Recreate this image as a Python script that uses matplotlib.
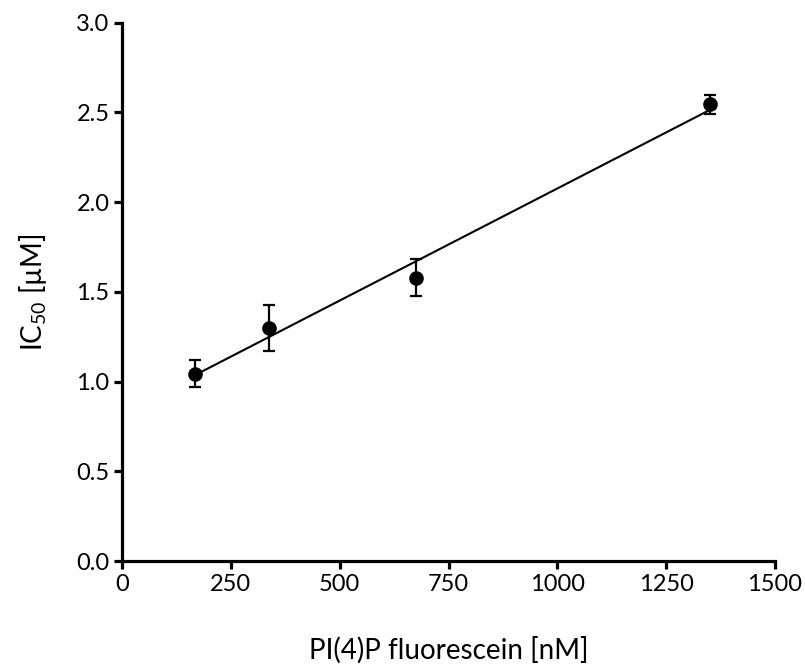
import numpy as np
import matplotlib
matplotlib.use("Agg")
import matplotlib.pyplot as plt

plt.rcParams['font.family'] = ['Lato', 'DejaVu Sans']
plt.rcParams['mathtext.fontset'] = 'custom'
plt.rcParams['mathtext.rm'] = 'Lato'

# data
conc = [168.75, 337.5, 675, 1350]          # PI(4)P fluorescein [nM]
ic50 = [1.045, 1.30, 1.58, 2.545]          # IC50 [uM]
err = [0.075, 0.127, 0.105, 0.053]

xticks = [0, 250, 500, 750, 1000, 1250, 1500]
yticks = [0.0, 0.5, 1.0, 1.5, 2.0, 2.5, 3.0]

# linear fit
k, b = np.polyfit(conc, ic50, 1)
xfit = np.array([conc[0], conc[-1]])
yfit = k * xfit + b

fig = plt.figure(figsize=(8.05, 6.69), dpi=100)
ax = fig.add_axes([0.1516, 0.1614, 0.8111, 0.8046])

ax.plot(xfit, yfit, 'k-', lw=1.5)
ax.errorbar(conc, ic50, yerr=err, fmt='o', color='k', ms=9.5,
            elinewidth=1.6, capsize=4, capthick=1.6)

ax.set_xlim(0, 1500)
ax.set_ylim(0, 3.0)
ax.set_xticks(xticks)
ax.set_yticks(yticks)
ax.set_xticklabels([str(t) for t in xticks])
ax.set_yticklabels(['%.1f' % t for t in yticks])

for s in ['top', 'right']:
    ax.spines[s].set_visible(False)
for s in ['left', 'bottom']:
    ax.spines[s].set_linewidth(2.3)
ax.tick_params(width=2.3, length=6, labelsize=17, pad=3)

ax.set_xlabel('PI(4)P fluorescein [nM]', fontsize=20, labelpad=30)
ax.set_ylabel(r'IC$_{50}$ [µM]', fontsize=20, labelpad=20)

fig.savefig('out.png', dpi=100)
